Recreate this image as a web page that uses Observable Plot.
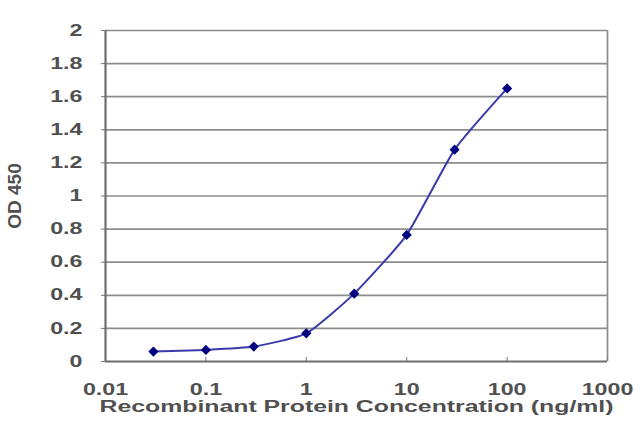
<!DOCTYPE html>
<html><head><meta charset="utf-8">
<script src="https://cdn.jsdelivr.net/npm/d3@7"></script>
<script src="https://cdn.jsdelivr.net/npm/@observablehq/plot@0.6"></script>
<style>
html,body{margin:0;padding:0;background:#fff;}
#chart svg{display:block;}
</style></head><body><div id="chart"></div>
<script>
const concentrations = [0.03, 0.1, 0.3, 1, 3, 10, 30, 100];
const od450 = [0.06, 0.07, 0.09, 0.17, 0.41, 0.765, 1.28, 1.65];
const xTicks = [0.01, 0.1, 1, 10, 100, 1000];
const xTickLabels = ["0.01", "0.1", "1", "10", "100", "1000"];
const yTicks = [0, 0.2, 0.4, 0.6, 0.8, 1, 1.2, 1.4, 1.6, 1.8, 2];
const yTickLabels = ["0", "0.2", "0.4", "0.6", "0.8", "1", "1.2", "1.4", "1.6", "1.8", "2"];
const xTitle = "Recombinant Protein Concentration (ng/ml)";
const yTitle = "OD 450";

const data = concentrations.map((c, i) => ({c, od: od450[i]}));

const plot = Plot.plot({
  width: 640, height: 427,
  marginLeft: 105, marginRight: 33, marginTop: 30, marginBottom: 66,
  style: {fontFamily: "'Liberation Sans', Arial, sans-serif", fontSize: "16px", color: "#505050", background: "#fff", fontWeight: "bold"},
  x: {type: "log", domain: [xTicks[0], xTicks[xTicks.length - 1]]},
  y: {domain: [yTicks[0], yTicks[yTicks.length - 1]]},
  marks: [
    Plot.ruleY(yTicks.slice(1), {stroke: "#8c8c8c", strokeWidth: 1.7}),
    Plot.ruleX(xTicks.slice(-1), {stroke: "#8c8c8c", strokeWidth: 1.7}),
    Plot.axisY(yTicks, {tickSize: 4, tickPadding: 19, tickFormat: d => yTickLabels[yTicks.indexOf(d)], stroke: "#777", fill: "#505050", label: null}),
    Plot.axisX(xTicks, {tickSize: -4, tickPadding: 26, tickFormat: d => xTickLabels[xTicks.indexOf(d)], stroke: "#777", fill: "#505050", label: null}),
    Plot.ruleY(yTicks.slice(0, 1), {stroke: "#6e6e6e", strokeWidth: 2.2}),
    Plot.ruleX(xTicks.slice(0, 1), {stroke: "#6e6e6e", strokeWidth: 2.2}),
    Plot.line(data, {x: "c", y: "od", stroke: "#3a3aaa", strokeWidth: 2, curve: "cardinal", tension: 0.5}),
    Plot.dot(data, {x: "c", y: "od", symbol: "diamond2", r: 4.6, fill: "#000080", stroke: "none"}),
    Plot.text([xTitle], {frameAnchor: "bottom", dy: 50, fill: "#505050", fontSize: 16}),
    Plot.text([yTitle], {frameAnchor: "left", textAnchor: "middle", rotate: -90, dx: -91, fill: "#505050", fontSize: 19})
  ]
});
document.getElementById("chart").append(plot);
plot.querySelectorAll("text").forEach(t => {
  if (t.textContent === yTitle) return;
  const k = t.textContent === xTitle ? 1.55 : 1.45;
  const len = t.getComputedTextLength();
  t.setAttribute("textLength", (len * k).toFixed(1));
  t.setAttribute("lengthAdjust", "spacingAndGlyphs");
});
</script></body></html>
